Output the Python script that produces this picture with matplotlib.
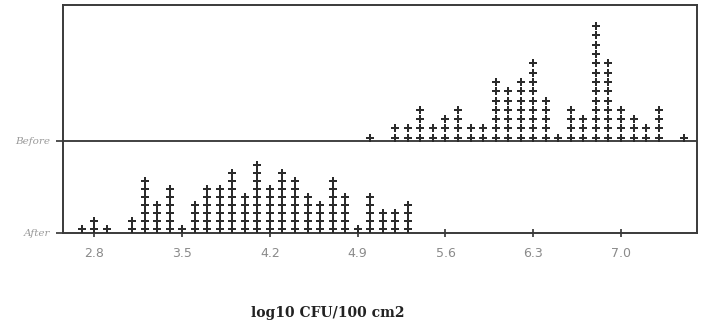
import numpy as np
import matplotlib.pyplot as plt

# dot plot of log10 CFU/100 cm2, before and after
before_x = [5.0, 5.2, 5.3, 5.4, 5.5, 5.6, 5.7, 5.8, 5.9, 6.0, 6.1, 6.2,
            6.3, 6.4, 6.5, 6.6, 6.7, 6.8, 6.9, 7.0, 7.1, 7.2, 7.3, 7.5]
before_n = [1, 2, 2, 4, 2, 3, 4, 2, 2, 7, 6, 7,
            9, 5, 1, 4, 3, 13, 9, 4, 3, 2, 4, 1]

after_x = [2.7, 2.8, 2.9, 3.1, 3.2, 3.3, 3.4, 3.5, 3.6, 3.7, 3.8, 3.9, 4.0,
           4.1, 4.2, 4.3, 4.4, 4.5, 4.6, 4.7, 4.8, 4.9, 5.0, 5.1, 5.2, 5.3]
after_n = [1, 2, 1, 2, 7, 4, 6, 1, 4, 6, 6, 8, 5,
           9, 6, 8, 7, 5, 4, 7, 5, 1, 5, 3, 3, 4]

x_ticks = [2.8, 3.5, 4.2, 4.9, 5.6, 6.3, 7.0]
row_labels = ['After', 'Before']

fig = plt.figure(figsize=(7.02, 3.28), dpi=100)
ax = fig.add_axes([63 / 702, 1 - 233 / 328, 634 / 702, 228 / 328])

dot_color = '#2b2b2b'


def stack(xs, ns, base, step):
    px, py = [], []
    for x, n in zip(xs, ns):
        for k in range(n):
            px.append(x)
            py.append(base + k * step)
    return px, py


ax_x, ax_y = stack(after_x, after_n, 3.7, 8.0)
bx_x, bx_y = stack(before_x, before_n, 95.3, 9.3)
ax.scatter(ax_x, ax_y, marker='P', s=28, color=dot_color, linewidths=0, zorder=3)
ax.scatter(bx_x, bx_y, marker='P', s=28, color=dot_color, linewidths=0, zorder=3)

ax.axhline(92, color='#333333', lw=1.3, zorder=2)

ax.set_xlim(2.55, 7.606)
ax.set_ylim(0, 228)
ax.set_xticks(x_ticks)
ax.set_xticklabels(['%.1f' % t for t in x_ticks], color='#8a8a8a', fontsize=9)
ax.set_yticks([0, 92])
ax.set_yticklabels(row_labels, color='#9a9a9a', fontsize=7.5, style='italic',
                   family='DejaVu Serif')
ax.tick_params(axis='x', direction='inout', length=6, width=1.2, color='#333333', pad=7)
ax.tick_params(axis='y', direction='out', length=5, width=1.2, color='#333333', pad=4)

for s in ax.spines.values():
    s.set_color('#3a3a3a')
    s.set_linewidth(1.4)

fig.text(328 / 702, 1 - 313 / 328, 'log10 CFU/100 cm2', ha='center', va='center',
         fontsize=10, fontweight='bold', family='DejaVu Serif', color='#222222')

fig.savefig('out.png', dpi=100)
